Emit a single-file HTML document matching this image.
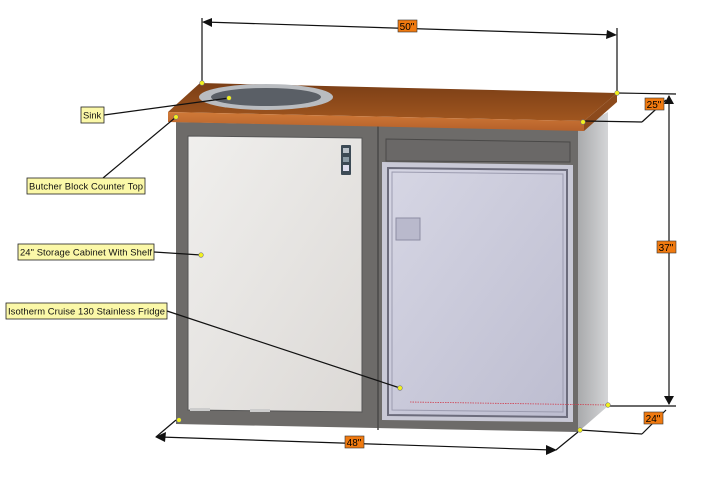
<!DOCTYPE html>
<html><head><meta charset="utf-8"><style>
html,body{margin:0;padding:0;background:#fff;}
svg{display:block;font-family:"Liberation Sans",sans-serif;}
</style></head><body>
<svg width="704" height="479" viewBox="0 0 704 479" xmlns="http://www.w3.org/2000/svg">
<defs>
<linearGradient id="wood" x1="0" y1="0" x2="0" y2="1"><stop offset="0" stop-color="#7a3e16"/><stop offset="1" stop-color="#a0561f"/></linearGradient>
<linearGradient id="edge" x1="0" y1="0" x2="0" y2="1"><stop offset="0" stop-color="#d07a38"/><stop offset="1" stop-color="#b5602a"/></linearGradient>
<linearGradient id="side" x1="0" y1="0" x2="1" y2="0"><stop offset="0" stop-color="#a9aaac"/><stop offset="1" stop-color="#d4d5d7"/></linearGradient>
<linearGradient id="ldoor" x1="0" y1="0" x2="1" y2="1"><stop offset="0" stop-color="#f0efed"/><stop offset="1" stop-color="#dcd9d6"/></linearGradient>
<linearGradient id="fdoor" x1="0" y1="0" x2="1" y2="1"><stop offset="0" stop-color="#d6d6e4"/><stop offset="1" stop-color="#bdbdd0"/></linearGradient>
</defs>
<polygon points="578,128 608,112 608,406 578,432" fill="url(#side)"/>
<polygon points="176,122 578,130 578,432 176,424" fill="#6d6b69"/>
<line x1="378" y1="126" x2="378" y2="430" stroke="#4a4948" stroke-width="1.5"/>
<polygon points="188,136 362,138 362,412 188,410" fill="url(#ldoor)" stroke="#555" stroke-width="1"/>
<rect x="190" y="408" width="20" height="3" fill="#ccc"/><rect x="250" y="409" width="20" height="3" fill="#ccc"/>
<rect x="341" y="145" width="10" height="30" rx="1" fill="#3c4a55"/>
<rect x="343" y="148" width="6" height="5" fill="#b8c0c8"/><rect x="343" y="157" width="6" height="5" fill="#8a9aa5"/><rect x="343" y="165" width="6" height="6" fill="#dde"/>
<polygon points="386,139 570,142 570,162 386,161" fill="#6a6867" stroke="#4a4948" stroke-width="1"/>
<polygon points="382,162 573,165 573,422 382,420" fill="#c9c9d6"/>
<polygon points="388,168 567,170 567,417 388,415" fill="url(#fdoor)" stroke="#6c6c7c" stroke-width="2"/>
<polygon points="392,172 563,174 563,412 392,410" fill="none" stroke="#9c9cb0" stroke-width="1"/>
<rect x="396" y="218" width="24" height="22" fill="#b9b9cc" stroke="#8d8da3"/>
<line x1="410" y1="402" x2="608" y2="405" stroke="#d04050" stroke-width="0.8" stroke-dasharray="1.5,1"/>
<polygon points="200,83 617,93 584,121 168,112" fill="url(#wood)"/>
<polygon points="168,112 584,121 584,131 168,122" fill="url(#edge)"/>
<polygon points="584,121 617,93 617,102 584,131" fill="#8c4a1c"/>
<ellipse cx="266" cy="97" rx="67" ry="13" fill="#b9bcc0"/>
<ellipse cx="266" cy="97" rx="55" ry="9" fill="#5a5f66"/>
<g stroke="#111" stroke-width="1.2" fill="none">
<line x1="202" y1="18" x2="202" y2="83"/><line x1="617" y1="28" x2="617" y2="93"/>
<line x1="204" y1="22" x2="615" y2="35"/>
<line x1="617" y1="93" x2="676" y2="94"/><line x1="584" y1="121" x2="642" y2="122"/><line x1="642" y1="122" x2="666" y2="100"/>
<line x1="669" y1="96" x2="669" y2="404"/>
<line x1="608" y1="406" x2="676" y2="406"/><line x1="580" y1="430" x2="642" y2="434"/><line x1="642" y1="434" x2="666" y2="410"/>
<line x1="578" y1="432" x2="556" y2="450"/><line x1="176" y1="420" x2="156" y2="437"/>
<line x1="160" y1="437" x2="552" y2="450"/>
<line x1="104" y1="115" x2="229" y2="98"/><line x1="103" y1="178" x2="176" y2="117"/>
<line x1="154" y1="252" x2="201" y2="255"/><line x1="167" y1="311" x2="400" y2="388"/>
</g>
<g fill="#111">
<polygon points="202,22 212,18 212,27"/><polygon points="617,35 607,30 606,39"/>
<polygon points="669,95 664,104 674,104"/><polygon points="669,405 664,396 674,396"/>
<polygon points="155,437 166,432 165,442"/><polygon points="557,450 546,445 546,455"/>
</g>
<g fill="#f2f21e" stroke="#777" stroke-width="0.6">
<circle cx="202" cy="83" r="2.3"/><circle cx="229" cy="98" r="2.3"/><circle cx="176" cy="117" r="2.3"/><circle cx="583" cy="122" r="2.3"/><circle cx="617" cy="93" r="2.3"/>
<circle cx="201" cy="255" r="2.3"/><circle cx="400" cy="388" r="2.3"/><circle cx="179" cy="420" r="2.3"/><circle cx="608" cy="405" r="2.3"/><circle cx="580" cy="430" r="2.3"/>
</g>
<g font-size="10" text-anchor="middle">
<rect x="398" y="20" width="19" height="12" fill="#f07a10" stroke="#333" stroke-width="0.6"/><text x="407" y="30">50"</text>
<rect x="645" y="98" width="19" height="12" fill="#f07a10" stroke="#333" stroke-width="0.6"/><text x="654" y="108">25"</text>
<rect x="657" y="241" width="19" height="12" fill="#f07a10" stroke="#333" stroke-width="0.6"/><text x="666" y="251">37"</text>
<rect x="644" y="412" width="19" height="12" fill="#f07a10" stroke="#333" stroke-width="0.6"/><text x="653" y="422">24"</text>
<rect x="345" y="436" width="19" height="12" fill="#f07a10" stroke="#333" stroke-width="0.6"/><text x="354" y="446">48"</text>
</g>
<g font-size="9.4" fill="#111">
<rect x="81" y="107" width="23" height="16" fill="#fbf8a8" stroke="#222" stroke-width="0.8"/><text x="83" y="118.5">Sink</text>
<rect x="27" y="178" width="118" height="16" fill="#fbf8a8" stroke="#222" stroke-width="0.8"/><text x="29" y="189.5" textLength="114">Butcher Block Counter Top</text>
<rect x="18" y="244" width="136" height="16" fill="#fbf8a8" stroke="#222" stroke-width="0.8"/><text x="20" y="255.5" textLength="132">24" Storage Cabinet With Shelf</text>
<rect x="6" y="303" width="161" height="16" fill="#fbf8a8" stroke="#222" stroke-width="0.8"/><text x="8" y="314.5" textLength="157">Isotherm Cruise 130 Stainless Fridge</text>
</g>
</svg>
</body></html>
